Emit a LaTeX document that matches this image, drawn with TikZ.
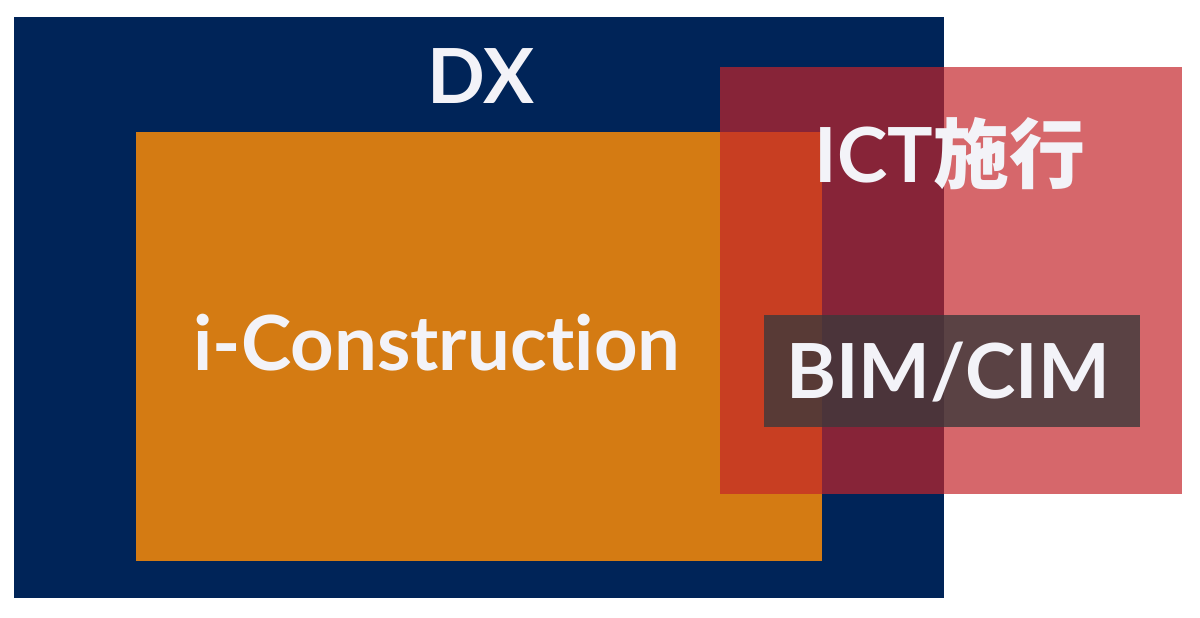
\documentclass[tikz,border=0pt]{standalone}
\usepackage{fontspec}
\setmainfont{Lato}[Ligatures={NoCommon,NoRare}]
\newfontfamily\cjk{Noto Sans CJK JP}
\definecolor{navy}{RGB}{0,36,88}
\definecolor{orng}{RGB}{212,123,19}
\definecolor{rd}{RGB}{196,36,42}
\definecolor{dk}{RGB}{60,57,59}
\definecolor{txt}{RGB}{243,243,248}
\tikzset{
  area/.style={draw=none, inner sep=0pt, outer sep=0pt},
  lbl/.style={text=txt, font=\fontsize{76}{80}\selectfont\bfseries, anchor=base, inner sep=0pt}
}
\begin{document}
\begin{tikzpicture}[x=1pt,y=-1pt]
\useasboundingbox (0,0) rectangle (1200,618);
\fill[white] (0,0) rectangle (1200,618);
\fill[navy] (14,17) rectangle (944,598);
\fill[orng] (136,132) rectangle (822,561);
\fill[rd, fill opacity=0.69] (720,67) rectangle (1182,494);
\fill[dk, fill opacity=0.8] (764,315) rectangle (1140,427);
\node[lbl] (dx) at (481,103) {DX};
\node[lbl] (ic) at (437,370) {i-Construction};
\node[lbl] (ict) at (950,182) {ICT{\cjk\bfseries 施行}};
\node[lbl] (bim) at (948,398) {BIM/CIM};
\end{tikzpicture}
\end{document}
